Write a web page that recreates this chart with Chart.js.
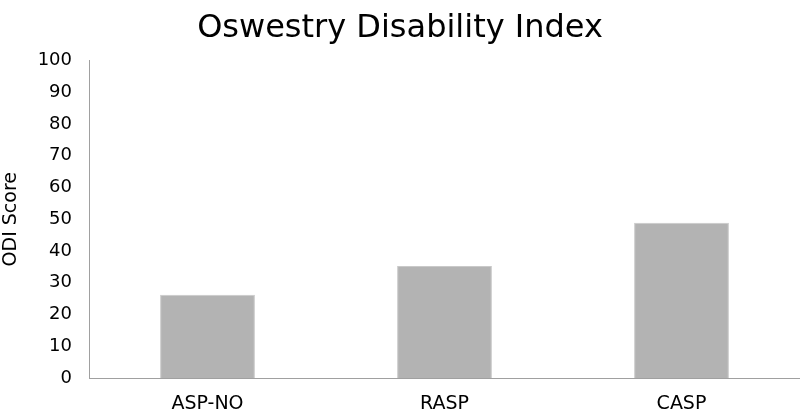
<!DOCTYPE html>
<html>
<head>
<meta charset="utf-8">
<script src="https://cdn.jsdelivr.net/npm/chart.js@4/dist/chart.umd.min.js"></script>
<style>
  html, body { margin: 0; padding: 0; background: #fff; }
</style>
</head>
<body>
<canvas id="odiChart" width="800" height="411"></canvas>
<script>
// data
const groups = ["ASP-NO", "RASP", "CASP"];
const odiScores = [26.2, 35.3, 48.9];
const yTicks = [0, 10, 20, 30, 40, 50, 60, 70, 80, 90, 100];

const ctx = document.getElementById('odiChart');
const odiChart = new Chart(ctx, {
  type: 'bar',
  data: {
    labels: groups,
    datasets: [{
      label: "ODI Score",
      data: odiScores,
      backgroundColor: "#b3b3b3",
      borderColor: "#c9c9c9",
      borderWidth: 1,
      barPercentage: 0.4,
      categoryPercentage: 1
    }]
  },
  options: {
    responsive: false,
    animation: false,
    maintainAspectRatio: false,
    layout: { padding: { left: 0, right: 0, top: 0, bottom: 0 } },
    plugins: {
      legend: { display: false },
      tooltip: { enabled: false },
      title: {
        display: true,
        text: "Oswestry Disability Index",
        color: "#000",
        font: { family: "DejaVu Sans", size: 32, weight: "normal" },
        padding: { top: 9, bottom: 13 }
      }
    },
    scales: {
      x: {
        grid: { display: false },
        border: { color: "#a0a0a0", width: 1 },
        ticks: {
          color: "#000",
          font: { family: "DejaVu Sans", size: 19 },
          padding: 7,
          maxRotation: 0
        },
        afterFit: (scale) => { scale.height = 33; }
      },
      y: {
        min: 0,
        max: 100,
        afterBuildTicks: (scale) => { scale.ticks = yTicks.map(v => ({ value: v })); },
        grid: { display: false, drawTicks: false },
        border: { color: "#a0a0a0", width: 1 },
        ticks: {
          color: "#000",
          font: { family: "DejaVu Sans", size: 18 },
          padding: 17
        },
        title: {
          display: true,
          text: "ODI Score",
          color: "#000",
          font: { family: "DejaVu Sans", size: 19 },
          padding: 0
        },
        afterFit: (scale) => { scale.width = 89; }
      }
    }
  }
});
</script>
</body>
</html>
